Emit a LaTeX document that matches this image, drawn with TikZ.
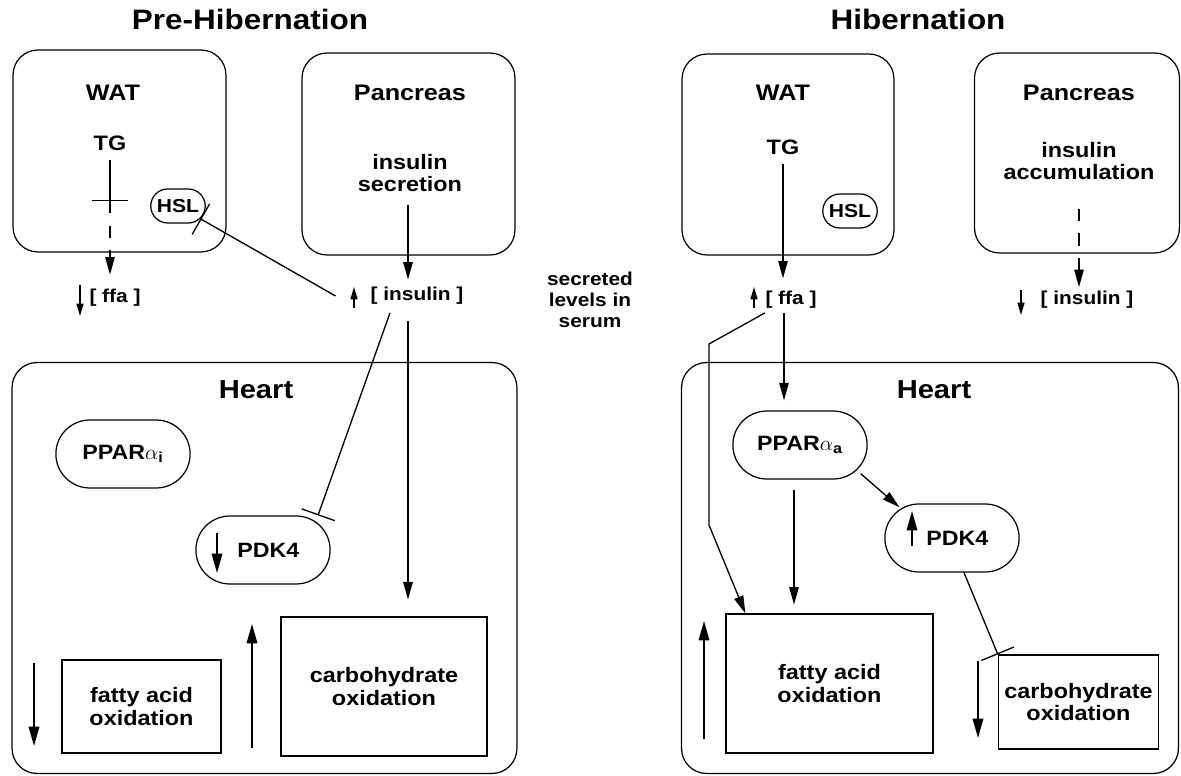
\documentclass[tikz,border=0pt]{standalone}
\usepackage{fontspec}
\setmainfont{Liberation Sans}[FakeStretch=1.12]
\usetikzlibrary{arrows.meta, positioning, shapes.misc}

\begin{document}
\begin{tikzpicture}[x=0.02cm, y=-0.02cm, line width=0.75pt,
    organ/.style={draw, rounded corners=0.5cm, line width=0.7pt, inner sep=0pt},
    pill/.style={draw, rounded rectangle, line width=0.7pt, minimum width=2.92cm, minimum height=1.36cm, font=\fontsize{11.8}{13}\selectfont\bfseries},
    hslbox/.style={draw, rounded rectangle, line width=0.7pt, minimum width=1.16cm, minimum height=0.68cm, inner sep=1pt, font=\fontsize{10.7}{12}\selectfont\bfseries},
    oxbox/.style={draw, line width=0.7pt, align=center, font=\fontsize{11.9}{13}\selectfont\bfseries},
    title/.style={font=\fontsize{16}{18}\selectfont\bfseries},
    head/.style={font=\fontsize{12.8}{15}\selectfont\bfseries},
    heart/.style={font=\fontsize{14.8}{17}\selectfont\bfseries},
    lab/.style={font=\fontsize{11.9}{13}\selectfont\bfseries, align=center, inner sep=2pt},
    conc/.style={font=\fontsize{10.6}{11.9}\selectfont\bfseries, align=center, inner sep=2pt},
    arr/.style={-{Triangle[length=10pt,width=5.4pt]}},
    ind/.style={line width=0.8pt, -{Triangle[length=7pt,width=4pt]}},
    bigind/.style={line width=0.9pt, -{Triangle[length=11pt,width=6pt]}},
    inhib/.style={-{Bar[width=20pt]}}]
    \useasboundingbox (0,0) rectangle (1181,776);

    % Pre-Hibernation
    \node[title] (tPre) at (250,19) {Pre-Hibernation};
    \node[organ, minimum width=4.26cm, minimum height=4.04cm] (watL) at (119.5,151) {};
    \node[organ, minimum width=4.26cm, minimum height=4.04cm] (panL) at (408.5,154) {};
    \node[organ, minimum width=10.1cm, minimum height=8.22cm] (heartL) at (264.5,568) {};
    \node[head] (watLlab) at (113,93) {WAT};
    \node[head] (panLlab) at (410,93) {Pancreas};
    \node[heart] (heartLlab) at (256,390) {Heart};
    \node[lab] (tgL) at (110,143) {TG};
    \node[hslbox] (hslL) at (178,206) {HSL};
    \node[lab] (secL) at (410,173) {insulin\\secretion};
    \node[conc] (ffaL) at (115,298) {[ ffa ]};
    \node[conc] (insL) at (417,296) {[ insulin ]};
    \node[pill] (pparL) at (123,454) {PPAR\(\alpha\)\textsubscript{i}};
    \node[pill] (pdkL) at (263,550) {\hspace{6pt}PDK4};
    \node[oxbox, minimum width=3.18cm, minimum height=1.86cm] (fatL) at (141.5,706.5) {fatty acid\\oxidation};
    \node[oxbox, minimum width=4.12cm, minimum height=2.78cm] (carbL) at (384,686.5) {carbohydrate\\oxidation};
    \coordinate (tgbarL) at (110,201);

    \draw[inhib, shorten <=3pt] (tgL) -- (tgbarL);
    \draw[arr, dash pattern=on 7pt off 7pt, shorten >=6pt] (tgbarL) -- (tgbarL |- ffaL.north);
    \draw[arr, shorten <=5pt, shorten >=2pt] ([xshift=-0.04cm]secL.south) -- ([xshift=-0.04cm]secL.south |- insL.north);
    \draw[inhib] ([xshift=-0.62cm]insL.west) -- (hslL);
    \draw[inhib] ([xshift=-0.54cm, yshift=-0.08cm]insL.south) -- ([xshift=1.1cm]pdkL.north);
    \draw[arr, shorten <=7pt, shorten >=9.6pt] ([xshift=-0.18cm]insL.south) -- ([xshift=-0.18cm]insL.south |- carbL.north);

    \draw[ind] (80,285) -- (80,316);
    \draw[ind] (354,308) -- (354,287);
    \draw[bigind] (217,533) -- (217,573);
    \draw[bigind] (34,663) -- (34,746);
    \draw[bigind] (252,748) -- (252,624);

    \node[conc] (serum) at (590,300) {secreted\\levels in\\serum};

    % Hibernation
    \node[title] (tHib) at (918,19) {Hibernation};
    \node[organ, minimum width=4.24cm, minimum height=4.02cm] (watR) at (788,154.5) {};
    \node[organ, minimum width=4.1cm, minimum height=4.0cm] (panR) at (1077,153) {};
    \node[organ, minimum width=9.94cm, minimum height=8.22cm] (heartR) at (930,568) {};
    \node[head] (watRlab) at (783,93) {WAT};
    \node[head] (panRlab) at (1079,93) {Pancreas};
    \node[heart] (heartRlab) at (934,390) {Heart};
    \node[lab] (tgR) at (783,147) {TG};
    \node[hslbox] (hslR) at (850,211) {HSL};
    \node[lab] (accR) at (1079,161) {insulin\\accumulation};
    \node[conc] (ffaR) at (791,300) {[ ffa ]};
    \node[conc] (insR) at (1087,300) {[ insulin ]};
    \node[pill] (pparR) at (800,445) {PPAR\(\alpha\)\textsubscript{a}};
    \node[pill] (pdkR) at (952,538) {\hspace{6pt}PDK4};
    \node[oxbox, minimum width=4.14cm, minimum height=2.78cm] (fatR) at (829.5,683.5) {fatty acid\\oxidation};
    \node[oxbox, minimum width=3.18cm, minimum height=1.88cm] (carbR) at (1078.5,702) {carbohydrate\\oxidation};
    \coordinate (bendA) at (709,344);
    \coordinate (bendB) at (709,525);

    \draw[arr, shorten <=3pt, shorten >=5pt] (tgR) -- (tgR |- ffaR.north);
    \draw[arr, dash pattern=on 7pt off 7pt, shorten <=14pt] (accR.south) -- (accR.south |- insR.north);
    \draw[arr, shorten >=5.7pt] ([xshift=-0.14cm]ffaR.south) -- ([xshift=-0.14cm]ffaR.south |- pparR.north);
    \draw[arr] ([xshift=-0.52cm]ffaR.south) -- (bendA) -- (bendB) -- ([xshift=0.4cm]fatR.north west);
    \draw[arr, shorten <=6pt, shorten >=5pt] ([xshift=-0.12cm]pparR.south) -- ([xshift=-0.12cm]pparR.south |- fatR.north);
    \draw[arr, shorten <=3pt, shorten >=1pt] (pparR.-24) -- (pdkR.150);
    \draw[inhib] ([xshift=0.24cm]pdkR.south) -- (carbR.north west);

    \draw[ind] (754,308) -- (754,287);
    \draw[ind] (1021,290) -- (1021,315);
    \draw[bigind] (912,546) -- (912,511);
    \draw[bigind] (704,739) -- (704,621);
    \draw[bigind] (978,661) -- (978,738);
\end{tikzpicture}
\end{document}
